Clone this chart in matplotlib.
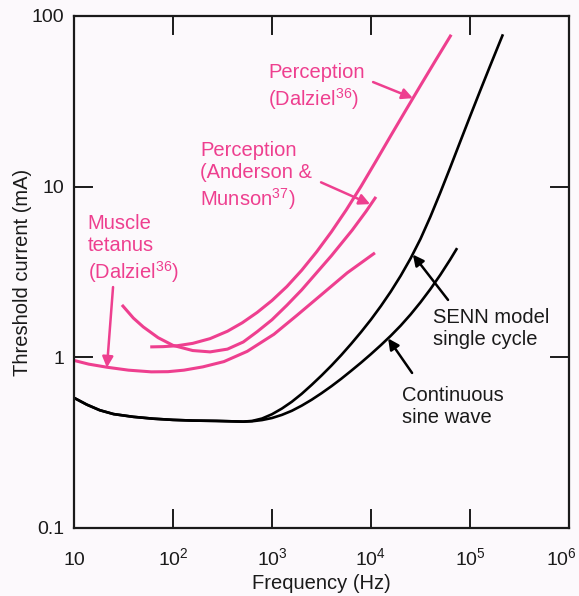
import numpy as np
import matplotlib
matplotlib.use("Agg")
import matplotlib.pyplot as plt
from matplotlib.ticker import NullLocator
from matplotlib.transforms import ScaledTranslation

'''données lues sur les courbes (fréquence en Hz, seuil en mA)'''

# Perception (Dalziel 36)
freq_dalziel_perc = [58.9, 79.4, 110, 158, 237, 355, 501, 708, 1000, 1413, 1995, 2818,
                     3981, 5623, 7943, 11220, 15849, 22387, 31623, 44668, 64565]
seuil_dalziel_perc = [1.151, 1.155, 1.169, 1.207, 1.287, 1.422, 1.594, 1.832, 2.152, 2.598, 3.236, 4.143,
                      5.435, 7.302, 10.05, 14.10, 19.89, 27.94, 39.14, 54.63, 77.65]

# Perception (Anderson & Munson 37)
freq_anderson = [30.5, 39.8, 50.1, 70.8, 100, 158, 237, 355, 513, 708, 1000, 1413,
                 1995, 2818, 3981, 6457, 8913, 11220]
seuil_anderson = [2.028, 1.698, 1.507, 1.303, 1.175, 1.096, 1.076, 1.117, 1.230, 1.413, 1.660, 2.018,
                  2.483, 3.126, 3.936, 5.559, 7.161, 8.710]

# Muscle tetanus (Dalziel 36)
freq_tetanus = [10, 14.1, 21.5, 35.5, 60.3, 89.1, 129, 200, 327, 562, 1047, 1778, 3055, 5754, 10965]
seuil_tetanus = [0.959, 0.912, 0.875, 0.841, 0.822, 0.824, 0.841, 0.879, 0.944, 1.084, 1.365, 1.758,
                 2.291, 3.126, 4.093]

# modèle SENN, un seul cycle
freq_senn = [10, 13.5, 18.2, 25.1, 39.8, 63.1, 100, 158, 275, 513, 631, 794, 1000, 1259, 1585,
             1995, 2512, 3162, 3981, 5012, 6310, 7943, 10000, 12589, 15849, 19953, 25119, 31623,
             39811, 50119, 63096, 79433, 100000, 125893, 158489, 199526, 215278]
seuil_senn = [0.579, 0.528, 0.490, 0.465, 0.448, 0.437, 0.430, 0.426, 0.424, 0.420, 0.424, 0.438,
              0.464, 0.501, 0.549, 0.611, 0.689, 0.782, 0.894, 1.031, 1.200, 1.407, 1.665, 1.997,
              2.428, 3.005, 3.797, 4.940, 6.664, 9.220, 12.93, 18.27, 25.75, 36.13, 50.44, 70.10,
              78.08]

# onde sinusoïdale continue
freq_sinus = [10, 13.5, 18.2, 25.1, 39.8, 63.1, 100, 158, 275, 513, 631, 794, 1000, 1259, 1585,
              1995, 2512, 3162, 3981, 5012, 6310, 7943, 10000, 12589, 15849, 19953, 25119, 31623,
              39811, 50119, 63096, 74131]
seuil_sinus = [0.579, 0.528, 0.490, 0.465, 0.448, 0.437, 0.430, 0.426, 0.424, 0.420, 0.422, 0.429,
               0.441, 0.460, 0.486, 0.521, 0.564, 0.616, 0.677, 0.749, 0.834, 0.931, 1.045, 1.179,
               1.338, 1.534, 1.783, 2.101, 2.509, 3.040, 3.740, 4.364]

ticks_x = [10, 1e2, 1e3, 1e4, 1e5, 1e6]
labels_x = ['10', r'$10^2$', r'$10^3$', r'$10^4$', r'$10^5$', r'$10^6$']
ticks_y = [0.1, 1, 10, 100]
labels_y = ['0.1', '1', '10', '100']

'''style'''

rose = '#ee3f8f'
noir = '#1a1a1a'
fond = '#fcf9fc'
plt.rcParams['font.family'] = ['Liberation Sans', 'DejaVu Sans']
plt.rcParams['mathtext.fontset'] = 'custom'
plt.rcParams['mathtext.rm'] = 'Liberation Sans'
plt.rcParams['mathtext.it'] = 'Liberation Sans:italic'
plt.rcParams['mathtext.bf'] = 'Liberation Sans:bold'

fig = plt.figure(figsize=(5.79, 5.96), dpi=100, facecolor=fond)
ax = fig.add_axes([0.1278, 0.1141, 0.8549, 0.8591], facecolor=fond)

'''tracé des courbes'''

kw_rose = dict(color=rose, lw=2.2, solid_capstyle='butt', solid_joinstyle='round')
kw_noir = dict(color='black', lw=1.9, solid_capstyle='butt', solid_joinstyle='round')
ax.plot(freq_dalziel_perc, seuil_dalziel_perc, **kw_rose)
ax.plot(freq_anderson, seuil_anderson, **kw_rose)
ax.plot(freq_tetanus, seuil_tetanus, **kw_rose)
ax.plot(freq_senn, seuil_senn, **kw_noir)
ax.plot(freq_sinus, seuil_sinus, **kw_noir)

ax.set_xscale('log')
ax.set_yscale('log')
ax.set_xlim(10, 1e6)
ax.set_ylim(0.1, 100)
ax.set_xticks(ticks_x)
ax.set_xticklabels(labels_x)
ax.set_yticks(ticks_y)
ax.set_yticklabels(labels_y)
ax.xaxis.set_minor_locator(NullLocator())
ax.yaxis.set_minor_locator(NullLocator())
ax.tick_params(axis='x', which='major', length=0, labelcolor=noir, labelsize=14, pad=27)
ax.tick_params(axis='y', which='major', length=0, labelcolor=noir, labelsize=14, pad=7)
for s in ax.spines.values():
    s.set_linewidth(1.6)
    s.set_color(noir)

# graduations tracées vers l'intérieur, sur les quatre côtés
for v in ticks_x[1:-1]:
    ax.axvline(v, 0, 0.035, color=noir, lw=1.4)
    ax.axvline(v, 0.965, 1, color=noir, lw=1.4)
for v in ticks_y[1:-1]:
    ax.axhline(v, 0, 0.037, color=noir, lw=1.4)
    ax.axhline(v, 0.963, 1, color=noir, lw=1.4)

# labels de x alignés sur la ligne de base (10 et 10^n au même niveau)
for lab in ax.get_xticklabels():
    lab.set_verticalalignment('baseline')
# le dernier label (10^6) est décalé vers la gauche pour rester dans la figure
dernier = ax.get_xticklabels()[-1]
dernier.set_transform(dernier.get_transform() + ScaledTranslation(-0.08, 0, fig.dpi_scale_trans))

ax.set_xlabel('Frequency (Hz)', fontsize=14.5, labelpad=3, color=noir)
ax.set_ylabel('Threshold current (mA)', fontsize=14.5, color=noir)
ax.yaxis.set_label_coords(-0.085, 0.5)

'''annotations'''

kw_texte = dict(fontsize=14.5, ha='left', va='baseline', linespacing=1.2)
fleche_rose = dict(arrowstyle='-|>', color=rose, lw=1.8, mutation_scale=16, shrinkA=0, shrinkB=0)
fleche_noire = dict(arrowstyle='-|>', color='black', lw=1.8, mutation_scale=16, shrinkA=0, shrinkB=0)

ax.text(912, 29.7, 'Perception\n(Dalziel$^{36}$)', color=rose, **kw_texte)
ax.annotate('', xy=(2.65e4, 33.0), xytext=(1.05e4, 41), arrowprops=fleche_rose)

ax.text(187, 7.71, 'Perception\n(Anderson &\nMunson$^{37}$)', color=rose, **kw_texte)
ax.annotate('', xy=(9.8e3, 7.9), xytext=(3.13e3, 10.6), arrowprops=fleche_rose)

ax.text(13.8, 2.88, 'Muscle\ntetanus\n(Dalziel$^{36}$)', color=rose, **kw_texte)
ax.annotate('', xy=(21.5, 0.87), xytext=(24.8, 2.58), arrowprops=fleche_rose)

ax.text(4.23e4, 1.18, 'SENN model\nsingle cycle', color=noir, **kw_texte)
ax.annotate('', xy=(2.65e4, 4.0), xytext=(6.0e4, 2.17), arrowprops=fleche_noire)

ax.text(2.06e4, 0.413, 'Continuous\nsine wave', color=noir, **kw_texte)
ax.annotate('', xy=(1.49e4, 1.29), xytext=(2.6e4, 0.81), arrowprops=fleche_noire)

plt.savefig('out.png', dpi=100, facecolor=fond)
